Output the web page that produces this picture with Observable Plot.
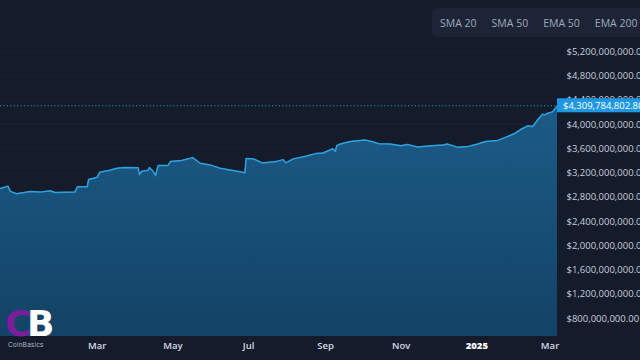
<!DOCTYPE html>
<html>
<head>
<meta charset="utf-8">
<script src="https://cdn.jsdelivr.net/npm/d3@7"></script>
<script src="https://cdn.jsdelivr.net/npm/@observablehq/plot@0.6"></script>
<style>
  html, body { margin: 0; padding: 0; background: #141b2b; }
  #wrap { position: relative; width: 640px; height: 360px; overflow: hidden; background: #141b2b; font-family: "Open Sans", "Liberation Sans", sans-serif; }
  #legend { position: absolute; left: 432px; top: 8px; width: 230px; height: 29px; background: #1c2436; border-radius: 6px; display: flex; align-items: center; }
  #legend span { color: #9ea9ba; font-size: 10.5px; margin-left: 8px; margin-right: 7px; white-space: nowrap; }
  #logo { position: absolute; left: 5px; top: 312px; width: 60px; height: 40px; }
  #logo .c { position: absolute; left: 0px; top: -9px; font: 900 36px "DejaVu Sans", sans-serif; color: #7a1e9c; }
  #logo .b { position: absolute; left: 22px; top: -9px; font: 900 36px "DejaVu Sans", sans-serif; color: #ffffff; }
  #logo .t { position: absolute; left: 3px; top: 29px; font: 6.5px "Liberation Sans", sans-serif; color: #aeb6c4; letter-spacing: 0.3px; }
</style>
</head>
<body>
<div id="wrap">
  <div id="chart"></div>
  <div id="legend"></div>
  <div id="logo"><span class="c">C</span><span class="b">B</span><span class="t">CoinBasics</span></div>
</div>
<script>
// Dates and values (USD)
const dates = [
  "2023-12-14","2023-12-20","2023-12-22","2023-12-27","2024-01-07","2024-01-15","2024-01-23","2024-01-27",
  "2024-02-12","2024-02-14","2024-02-22","2024-02-23","2024-02-27","2024-03-01","2024-03-03","2024-03-11",
  "2024-03-17","2024-03-23","2024-04-03","2024-04-04","2024-04-06","2024-04-11","2024-04-12","2024-04-15",
  "2024-04-17","2024-04-19","2024-04-27","2024-04-29","2024-05-08","2024-05-17","2024-05-23","2024-05-31",
  "2024-06-08","2024-06-22","2024-06-28","2024-06-29","2024-07-05","2024-07-12","2024-07-23","2024-07-29",
  "2024-07-31","2024-08-06","2024-08-16","2024-08-24","2024-08-30","2024-09-07","2024-09-09","2024-09-10",
  "2024-09-13","2024-09-21","2024-10-03","2024-10-09","2024-10-14","2024-10-23","2024-11-01","2024-11-06",
  "2024-11-14","2024-11-25","2024-12-05","2024-12-08","2024-12-17","2024-12-25","2025-01-01","2025-01-08",
  "2025-01-18","2025-01-24","2025-01-31","2025-02-05","2025-02-11","2025-02-15","2025-02-19","2025-02-23",
  "2025-02-25","2025-02-27","2025-03-03","2025-03-07"
];
const valuesB = [
  2.947,2.985,2.898,2.860,2.898,2.886,2.909,2.881,
  2.886,2.975,2.975,3.094,3.116,3.132,3.214,3.247,
  3.280,3.291,3.286,3.176,3.230,3.247,3.291,3.230,
  3.160,3.324,3.324,3.389,3.406,3.455,3.362,3.335,
  3.280,3.230,3.204,3.439,3.434,3.368,3.389,3.422,
  3.368,3.434,3.476,3.521,3.532,3.602,3.558,3.652,
  3.680,3.722,3.745,3.717,3.684,3.680,3.652,3.673,
  3.630,3.652,3.663,3.680,3.624,3.640,3.676,3.722,
  3.739,3.788,3.848,3.914,3.979,3.968,4.078,4.171,
  4.160,4.188,4.209,4.309784802
];
const lastValue = 4309784802.80;
const yTicks = [0.8e9, 1.2e9, 1.6e9, 2.0e9, 2.4e9, 2.8e9, 3.2e9, 3.6e9, 4.0e9, 4.4e9, 4.8e9, 5.2e9];
const xTicks = ["2024-03-01","2024-05-01","2024-07-01","2024-09-01","2024-11-01","2025-01-01","2025-03-01"];
const xDomain = ["2023-12-14","2025-03-07"];
const yDomain = [0.505e9, 6.046e9];
const legendItems = ["SMA 20", "SMA 50", "EMA 50", "EMA 200"];

const parse = d3.utcParse("%Y-%m-%d");
const data = dates.map((d, i) => ({date: parse(d), value: i === dates.length - 1 ? lastValue : valuesB[i] * 1e9}));
const money = d => "$" + d3.format(",.2f")(d);
const monthFmt = d => d.getUTCMonth() === 0 ? String(d.getUTCFullYear()) : d3.utcFormat("%b")(d);

const plot = Plot.plot({
  width: 640,
  height: 360,
  marginTop: 0,
  marginRight: 83,
  marginBottom: 24,
  marginLeft: 0,
  style: {background: "transparent", color: "#c8d0dc", fontFamily: "'Open Sans', 'Liberation Sans', sans-serif", fontSize: "9.5px"},
  x: {type: "utc", domain: xDomain.map(parse), ticks: xTicks.map(parse), tickFormat: monthFmt, tickSize: 0, tickPadding: 6, label: null},
  y: {domain: yDomain, axis: "right", ticks: yTicks, tickFormat: money, tickSize: 0, tickPadding: 9, label: null},
  marks: [
    Plot.ruleY(yTicks, {stroke: "#1b2333", strokeWidth: 1}),
    Plot.areaY(data, {x: "date", y: "value", fill: "url(#areaGrad)", clip: true}),
    Plot.lineY(data, {x: "date", y: "value", stroke: "#2ea2df", strokeWidth: 1.5}),
    Plot.ruleY([lastValue], {stroke: "#2b8cc4", strokeDasharray: "1.2,2.2", strokeWidth: 1})
  ]
});

const svg = d3.select(plot);
const defs = svg.insert("defs", ":first-child");
const grad = defs.append("linearGradient").attr("id", "areaGrad").attr("x1", 0).attr("y1", 0).attr("x2", 0).attr("y2", 1)
  .attr("gradientUnits", "objectBoundingBox");
grad.append("stop").attr("offset", "0%").attr("stop-color", "#1b5b87");
grad.append("stop").attr("offset", "100%").attr("stop-color", "#123f61");

// x axis styling
svg.selectAll("g[aria-label='x-axis tick label'] text")
  .attr("font-size", 9.5).attr("font-weight", 600).attr("fill", "#d6dce6");
svg.selectAll("text").filter(function() { return this.textContent === "2025"; }).attr("font-weight", 800).attr("fill", "#ffffff");

// price label using the y scale
const yScale = plot.scale("y");
const xRange = plot.scale("x").range;
const py = yScale.apply(lastValue);
const lab = svg.append("g").attr("text-anchor", "start");
lab.append("rect").attr("x", xRange[1]).attr("y", py - 7).attr("width", 640 - xRange[1]).attr("height", 14).attr("fill", "#1e98e3");
lab.append("text").attr("x", xRange[1] + 6).attr("y", py).attr("dy", "0.34em").attr("fill", "#ffffff")
  .attr("text-anchor", "start").attr("font-size", 9.5).text(money(lastValue));

document.getElementById("chart").appendChild(plot);

const legend = d3.select("#legend");
legendItems.forEach(t => legend.append("span").text(t));
</script>
</body>
</html>
